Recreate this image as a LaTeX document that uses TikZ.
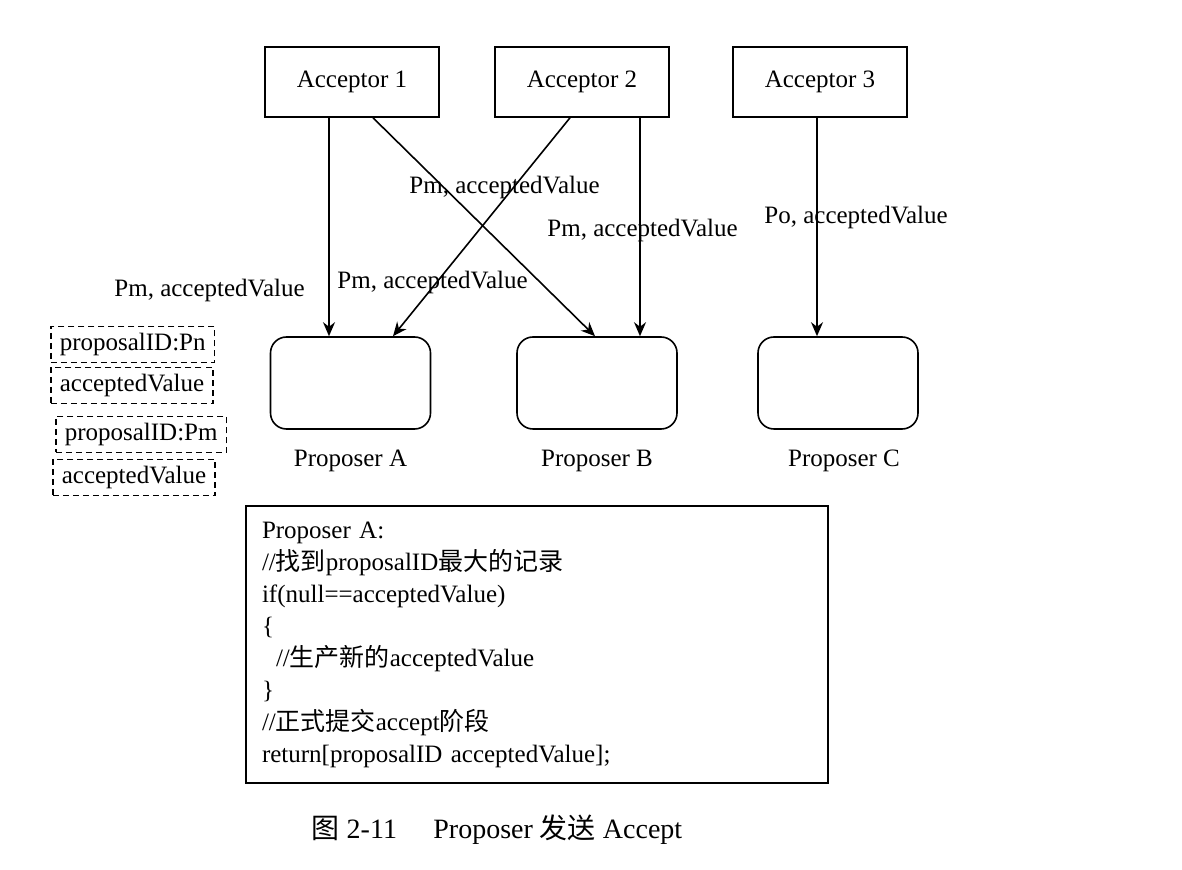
\documentclass[tikz,border=0pt]{standalone}
\usepackage{fontspec}
\setmainfont{Liberation Serif}
\newfontfamily\cjk{Noto Sans CJK SC}
\usetikzlibrary{arrows.meta, positioning}
\tikzstyle{arrow} = [thick, -{Stealth[length=7pt,width=6pt]}]

\begin{document}
\begin{tikzpicture}[
  x=0.5pt, y=-0.5pt,
  every node/.style={font=\fontsize{12.5}{16}\selectfont},
  acceptor/.style={draw, thick, rectangle, minimum width=87pt, minimum height=35pt},
  proposer/.style={draw, thick, rectangle, rounded corners=8pt, minimum width=80pt, minimum height=46pt},
  record/.style={draw, thick, dash pattern=on 3pt off 2pt, inner xsep=4.5pt, minimum height=17.5pt, anchor=west},
  msg/.style={anchor=west, inner sep=0pt},
  code/.style={draw, thick, align=left, text width=275pt, inner xsep=8pt, minimum height=138.5pt}
]
\useasboundingbox (0,0) rectangle (1182,870);

% Acceptors
\node[acceptor] (acc1) at (352,82) {Acceptor 1};
\node[acceptor] (acc2) at (582,82) {Acceptor 2};
\node[acceptor] (acc3) at (820,82) {Acceptor 3};

% Proposers
\node[proposer] (propA) at (350.5,383) {};
\node[proposer] (propB) at (597,383) {};
\node[proposer] (propC) at (838,383) {};
\node[below=6.5pt of propA] (nameA) {Proposer A};
\node[below=6.5pt of propB] (nameB) {Proposer B};
\node[below=6.5pt of propC, xshift=3pt] (nameC) {Proposer C};

% Accept messages
\draw[arrow] ([xshift=-11.5pt]acc1.south) -- ([xshift=-11.5pt]acc1.south |- propA.north);
\draw[arrow] ([xshift=10.5pt]acc1.south) -- ([xshift=-1pt]propB.north);
\draw[arrow] ([xshift=-6pt]acc2.south) -- ([xshift=21.25pt]propA.north);
\draw[arrow] ([xshift=29pt]acc2.south) -- ([xshift=29pt]acc2.south |- propB.north);
\draw[arrow] ([xshift=-1.5pt]acc3.south) -- ([xshift=-1.5pt]acc3.south |- propC.north);

\node[msg, anchor=east] (m1) at (305,290) {Pm, acceptedValue};
\node[msg] (m2) at (337,282) {Pm, acceptedValue};
\node[msg] (m3) at (409,187) {Pm, acceptedValue};
\node[msg] (m4) at (547,230) {Pm, acceptedValue};
\node[msg] (m5) at (764,217) {Po, acceptedValue};

% Records held by Proposer A
\node[record] (rec1) at (50,344.5) {proposalID:Pn};
\node[record] (rec2) at (50,385.5) {acceptedValue};
\node[record] (rec3) at (55,434.5) {proposalID:Pm};
\node[record] (rec4) at (52,477.5) {acceptedValue};

% Pseudo code
\node[code] (snippet) at (537,644.5) {Proposer A:\\
//{\cjk 找到}proposalID{\cjk 最大的记录}\\
if(null==acceptedValue)\\
\{\\
\hspace*{7pt}//{\cjk 生产新的}acceptedValue\\
\}\\
//{\cjk 正式提交}accept{\cjk 阶段}\\
return[proposalID acceptedValue];};

\node (caption) at (497,830) {\fontsize{14}{16}\selectfont{\cjk 图} 2-11\hspace{1.3em}Proposer {\cjk 发送} Accept};
\end{tikzpicture}
\end{document}
